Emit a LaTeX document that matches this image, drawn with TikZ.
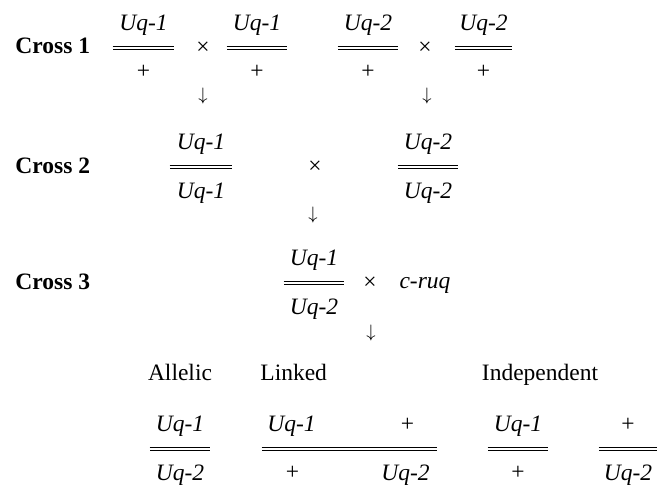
\documentclass[tikz,border=0pt]{standalone}
\usepackage{fontspec}
\setmainfont{Liberation Serif}
\usepackage{tikz}
\AtBeginDocument{\fontsize{11.75}{14}\selectfont}

\begin{document}
\begin{tikzpicture}[x=0.5pt, y=-0.5pt,
      lab/.style={font=\bfseries, inner sep=0pt, anchor=base west},
      gene/.style={font=\itshape, inner sep=0pt, anchor=base},
      wt/.style={inner sep=0pt, anchor=base},
      sym/.style={inner sep=0pt},
      arr/.style={inner sep=0pt, font=\fontsize{9.5}{10}\selectfont},
      barline/.style={inner sep=0pt, minimum height=0pt, minimum width=#1},
      dbl/.style={double, double distance=0.9pt, line width=0.45pt}]
    \useasboundingbox (0,0) rectangle (665,486);

    % Cross 1
    \node[lab] (c1) at (15,54) {Cross 1};
    \node[barline=30.5pt] (a1) at (143.5,48) {};
    \node[gene] at ([yshift=8.5pt]a1.center) (a1n) {Uq-1};
    \node[wt] at ([yshift=-15.5pt]a1.center) (a1d) {+};
    \node[sym] (x1) at (203,48) {×};
    \node[barline=30pt] (a2) at (257,48) {};
    \node[gene] at ([yshift=8.5pt]a2.center) (a2n) {Uq-1};
    \node[wt] at ([yshift=-15.5pt]a2.center) (a2d) {+};
    \node[barline=30pt] (b1) at (368,48) {};
    \node[gene] at ([yshift=8.5pt]b1.center) (b1n) {Uq-2};
    \node[wt] at ([yshift=-15.5pt]b1.center) (b1d) {+};
    \node[sym] (x2) at (425,48) {×};
    \node[barline=28.5pt] (b2) at (483.5,48) {};
    \node[gene] at ([yshift=8.5pt]b2.center) (b2n) {Uq-2};
    \node[wt] at ([yshift=-15.5pt]b2.center) (b2d) {+};
    \node[arr] (ar1) at (203,96) {$\downarrow$};
    \node[arr] (ar2) at (427,96) {$\downarrow$};

    % Cross 2
    \node[lab] (c2) at (15,174) {Cross 2};
    \node[barline=31pt] (d1) at (201,167) {};
    \node[gene] at ([yshift=8.5pt]d1.center) (d1n) {Uq-1};
    \node[gene] at ([yshift=-16pt]d1.center) (d1d) {Uq-1};
    \node[sym] (x3) at (315,167) {×};
    \node[barline=30pt] (d2) at (428,167) {};
    \node[gene] at ([yshift=8.5pt]d2.center) (d2n) {Uq-2};
    \node[gene] at ([yshift=-16pt]d2.center) (d2d) {Uq-2};
    \node[arr] (ar3) at (313,215) {$\downarrow$};

    % Cross 3
    \node[lab] (c3) at (15,290) {Cross 3};
    \node[barline=30pt] (e1) at (314,283) {};
    \node[gene] at ([yshift=8.5pt]e1.center) (e1n) {Uq-1};
    \node[gene] at ([yshift=-16pt]e1.center) (e1d) {Uq-2};
    \node[sym] (x4) at (370,283) {×};
    \node[gene] (cruq) at (425,289) {c-ruq};
    \node[arr] (ar4) at (371,333) {$\downarrow$};

    % outcomes
    \node[wt] (allelic) at (180,381) {Allelic};
    \node[wt, anchor=base west] (linked) at (260,381) {Linked};
    \node[wt] (indep) at (540,381) {Independent};
    \node[barline=30pt] (f1) at (180,449) {};
    \node[gene] at ([yshift=8.5pt]f1.center) (f1n) {Uq-1};
    \node[gene] at ([yshift=-16pt]f1.center) (f1d) {Uq-2};
    \node[barline=87.5pt] (f2) at (349.5,449) {};
    \node[gene] at ([xshift=-29pt,yshift=8.5pt]f2.center) (f2n) {Uq-1};
    \node[wt] at ([xshift=29pt,yshift=8.5pt]f2.center) (f2m) {+};
    \node[wt] at ([xshift=-28.5pt,yshift=-15.5pt]f2.center) (f2d) {+};
    \node[gene] at ([xshift=28pt,yshift=-16pt]f2.center) (f2e) {Uq-2};
    \node[barline=30pt] (f3) at (518,449) {};
    \node[gene] at ([yshift=8.5pt]f3.center) (f3n) {Uq-1};
    \node[wt] at ([yshift=-15.5pt]f3.center) (f3d) {+};
    \node[barline=29pt] (f4) at (628,449) {};
    \node[wt] at ([yshift=8.5pt]f4.center) (f4n) {+};
    \node[gene] at ([yshift=-16pt]f4.center) (f4d) {Uq-2};

    \foreach \b in {a1,a2,b1,b2,d1,d2,e1,f1,f2,f3,f4}
      \draw[dbl] (\b.west) -- (\b.east);
  \end{tikzpicture}
\end{document}
